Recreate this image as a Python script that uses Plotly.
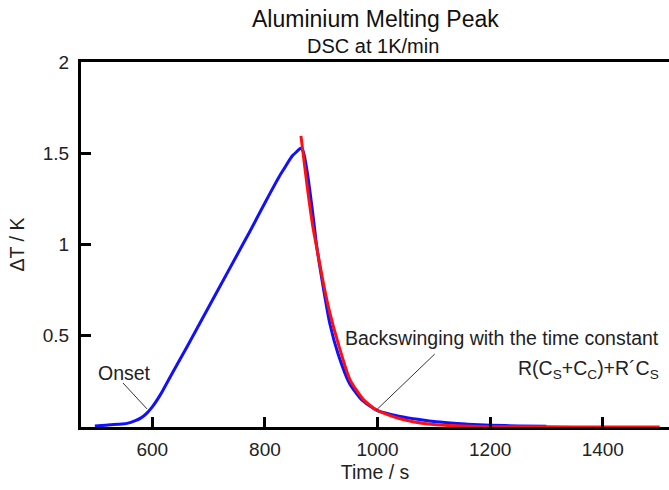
import plotly.graph_objects as go

# Measured DSC signal (blue)
meas_t = [498, 510, 525, 540, 555, 570, 580, 590, 600, 615, 631, 660, 690, 720, 750,
          773, 790, 809, 825, 835, 844, 850, 857, 863, 868, 875, 885, 892, 905,
          915, 930, 950, 970, 985, 1000, 1020, 1040, 1063, 1080, 1100, 1130, 1160,
          1200, 1250, 1300]
meas_dT = [0.005, 0.008, 0.012, 0.015, 0.02, 0.035, 0.05, 0.075, 0.11, 0.18, 0.27,
           0.43, 0.6, 0.77, 0.94, 1.07, 1.17, 1.28, 1.37, 1.42, 1.465, 1.49,
           1.51, 1.527, 1.51, 1.40, 1.17, 0.99, 0.74, 0.57, 0.40, 0.24, 0.155, 0.118,
           0.09, 0.072, 0.058, 0.046, 0.038, 0.03, 0.022, 0.015, 0.01, 0.006, 0.004]

# Fitted backswing (red)
fit_t = [864, 875, 885, 894, 905, 915, 930, 951, 975, 998, 1020, 1040, 1063, 1090,
         1120, 1150, 1200, 1300, 1400, 1501]
fit_dT = [1.595, 1.32, 1.10, 0.95, 0.77, 0.63, 0.46, 0.26, 0.15, 0.093, 0.065, 0.045,
          0.029, 0.017, 0.009, 0.005, 0.002, 0.001, 0.0, 0.0]

x_ticks = [600, 800, 1000, 1200, 1400]
y_ticks = [0.5, 1, 1.5, 2]
y_tick_labels = ["0.5", "1", "1.5", "2"]

FONT = "Arial, Liberation Sans, sans-serif"
TXT = "#222222"

fig = go.Figure()
fig.add_trace(go.Scatter(x=meas_t, y=meas_dT, mode="lines",
                         line=dict(color="#1010ff", width=3, shape="spline", smoothing=0.6),
                         showlegend=False))
fig.add_trace(go.Scatter(x=fit_t, y=fit_dT, mode="lines",
                         line=dict(color="#ff1010", width=3, shape="spline", smoothing=0.6),
                         showlegend=False))

# Annotation pointer lines
fig.add_shape(type="line", x0=548, y0=0.241, x1=590.6, y1=0.099,
              line=dict(color="#333333", width=1))
fig.add_shape(type="line", x0=1101.7, y0=0.40, x1=998, y1=0.093,
              line=dict(color="#333333", width=1))

fig.add_annotation(x=549.8, y=0.296, text="Onset", showarrow=False,
                   xanchor="center", yanchor="middle",
                   font=dict(family=FONT, size=19.5, color=TXT))
fig.add_annotation(x=1503, y=0.488, text="Backswinging with the time constant",
                   showarrow=False, xanchor="right", yanchor="middle",
                   font=dict(family=FONT, size=19.5, color=TXT))
fig.add_annotation(x=1503, y=0.315, text="R(C<sub>S</sub>+C<sub>C</sub>)+R´C<sub>S</sub>",
                   showarrow=False, xanchor="right", yanchor="middle",
                   font=dict(family=FONT, size=19.5, color=TXT))

# Title and subtitle
fig.add_annotation(xref="paper", yref="paper", x=0.5017, y=1.117,
                   text="Aluminium Melting Peak", showarrow=False,
                   xanchor="center", yanchor="middle", borderpad=0,
                   font=dict(family=FONT, size=23, color="#111111"))
fig.add_annotation(xref="paper", yref="paper", x=0.4966, y=1.0438,
                   text="DSC at 1K/min", showarrow=False,
                   xanchor="center", yanchor="middle", borderpad=0,
                   font=dict(family=FONT, size=20, color="#111111"))

fig.update_layout(
    width=669, height=490,
    margin=dict(l=81, r=0, t=62, b=63, autoexpand=False),
    paper_bgcolor="white", plot_bgcolor="white",
    font=dict(family=FONT, size=19, color=TXT),
)
fig.update_xaxes(range=[473.4, 1517.6], tickvals=x_ticks, ticks="inside", ticklen=10,
                 tickwidth=2.5, tickcolor="black", showline=True, linecolor="black",
                 linewidth=3, mirror=True, showgrid=False, zeroline=False,
                 ticklabelstandoff=3,
                 title=dict(text="Time / s", standoff=7, font=dict(size=19.5)),
                 tickfont=dict(size=19))
fig.update_yaxes(range=[0, 2], tickvals=y_ticks, ticktext=y_tick_labels, ticks="inside",
                 ticklen=10, tickwidth=2.5, tickcolor="black", showline=True,
                 linecolor="black", linewidth=3, showgrid=False, zeroline=False,
                 ticklabelstandoff=5,
                 title=dict(text="ΔT / K", standoff=13, font=dict(size=19.5)),
                 tickfont=dict(size=19))

fig.write_html("out.html", config={"displayModeBar": False},
               post_script="document.body.style.margin='0';document.body.style.overflow='hidden';")
